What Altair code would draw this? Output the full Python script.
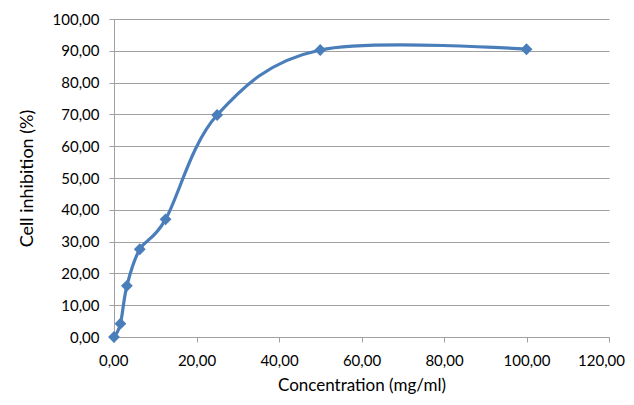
import altair as alt
import pandas as pd

concentration = [0.0, 1.56, 3.125, 6.25, 12.5, 25.0, 50.0, 100.0]
inhibition = [0.0, 4.2, 16.1, 27.6, 37.0, 69.8, 90.25, 90.5]

df = pd.DataFrame({"conc": concentration, "inh": inhibition})

FONT = "Lato"
BLUE = "#4a7ebb"
GRID = "#a0a0a0"
fmt = "replace(format(datum.value, '.2f'), '.', ',')"

common = dict(labelExpr=fmt, tickSize=5, tickColor=GRID, domainColor=GRID,
              labelFontSize=15, labelFont=FONT, titleFont=FONT,
              titleFontWeight="normal", labelColor="#000", titleColor="#000",
              labelOverlap=False)

x = alt.X("conc:Q", title="Concentration (mg/ml)",
          scale=alt.Scale(domain=[0, 120], nice=False, zero=True),
          axis=alt.Axis(values=[0, 20, 40, 60, 80, 100, 120], grid=False,
                        labelFlush=True, labelFlushOffset=15.5,
                        labelPadding=11, titlePadding=9, titleFontSize=17, **common))
y = alt.Y("inh:Q", title="Cell inhibition (%)",
          scale=alt.Scale(domain=[0, 100], nice=False),
          axis=alt.Axis(values=list(range(0, 101, 10)), grid=True, gridColor=GRID,
                        gridWidth=1.2, labelFlush=False, labelPadding=10,
                        titlePadding=16, titleFontSize=18, **common))

line = alt.Chart(df).mark_line(interpolate="cardinal", tension=0, color=BLUE, strokeWidth=3.2).encode(x=x, y=y)
pts = alt.Chart(df).mark_point(shape="diamond", filled=True, color=BLUE, size=140, opacity=1).encode(x=x, y=y)

chart = (line + pts).properties(
    width=495, height=318,
    autosize=alt.AutoSizeParams(type="none"),
    padding={"left": 106, "top": 11, "right": 17, "bottom": 60},
).configure_view(stroke=None)

chart.save("out.html", embed_options={"renderer": "svg", "actions": False})
